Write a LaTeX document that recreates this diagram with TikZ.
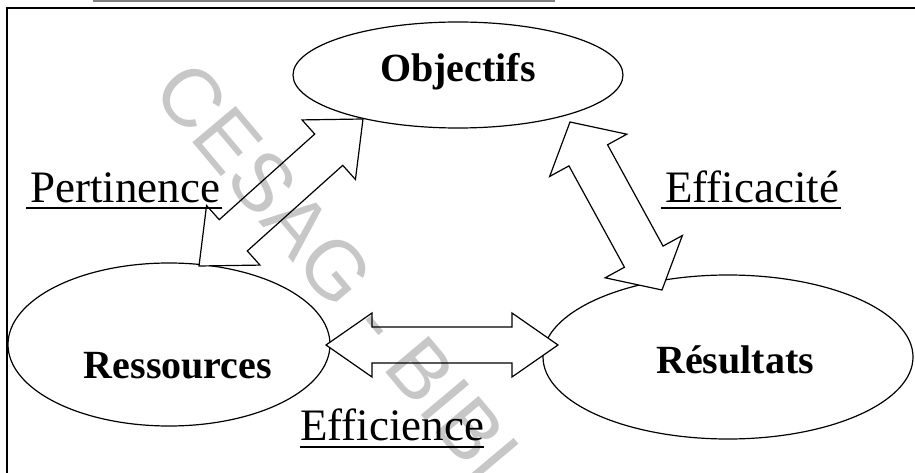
\documentclass[tikz,border=0pt]{standalone}
\usepackage{fontspec}
\setmainfont{Liberation Serif}
\newfontfamily\wmfont{Liberation Sans}
\usetikzlibrary{calc,shapes.geometric}
% double-headed block arrow: name, tip A, tip B, head length, head half width, shaft half width
\newcommand\twoarrow[6]{%
  \coordinate (#1a) at #2;
  \coordinate (#1b) at #3;
  \coordinate (#1ha) at ($(#1a)!#4pt!(#1b)$);
  \coordinate (#1hb) at ($(#1b)!#4pt!(#1a)$);
  \draw[arrowline] (#1a)
    -- ($(#1ha)!#5pt!90:(#1b)$) -- ($(#1ha)!#6pt!90:(#1b)$)
    -- ($(#1hb)!#6pt!-90:(#1a)$) -- ($(#1hb)!#5pt!-90:(#1a)$)
    -- (#1b)
    -- ($(#1hb)!#5pt!90:(#1a)$) -- ($(#1hb)!#6pt!90:(#1a)$)
    -- ($(#1ha)!#6pt!-90:(#1b)$) -- ($(#1ha)!#5pt!-90:(#1b)$)
    -- cycle;}
\begin{document}
\begin{tikzpicture}[x=1pt,y=-1pt,
  oval/.style={ellipse, draw, line width=1.2pt, inner sep=0pt},
  boldlab/.style={font=\fontsize{40}{44}\selectfont\bfseries, inner sep=0pt, anchor=base},
  lab/.style={font=\fontsize{45}{50}\selectfont, inner sep=0pt, anchor=base west},
  uline/.style={line width=1.6pt},
  arrowline/.style={draw, line width=1.2pt, fill=white, line join=miter},
  wm/.style={font=\wmfont\fontsize{82}{84}\selectfont, text=black, opacity=0.22, inner sep=0pt, anchor=base west, rotate=-50}]
\useasboundingbox (0,0) rectangle (915,473);
\fill[white] (0,0) rectangle (915,473);
% frame
\draw[line width=1.3pt] (7,473) -- (7,8) -- (915,8);
\draw[gray, line width=1.2pt] (93,1) -- (555,1);
% ellipses
\node[oval, minimum width=330pt, minimum height=106pt] (obj) at (458,75) {};
\node[oval, minimum width=322pt, minimum height=163pt] (res) at (169,344.5) {};
\node[oval, minimum width=370pt, minimum height=164pt] (resu) at (728,357) {};
\node[boldlab] (objt) at (458,82) {Objectifs};
\node[boldlab] (rest) at (178,378) {Ressources};
\node[boldlab] (resut) at (735,373) {Résultats};
% block arrows
\twoarrow{P}{(363,119)}{(199,266)}{46}{40}{21}
\twoarrow{C}{(570,122)}{(662,290)}{38}{44}{22}
\twoarrow{E}{(326,345)}{(558,345)}{46}{32}{18}
% labels
\node[lab] (pert) at (30,202) {Pertinence};
\node[lab] (effa) at (665,202) {Efficacité};
\node[lab] (effi) at (300,440) {Efficience};
\draw[uline] ([xshift=-4pt,yshift=-6pt]pert.base west) -- ([xshift=2pt,yshift=-6pt]pert.base east);
\draw[uline] ([xshift=-4pt,yshift=-6pt]effa.base west) -- ([xshift=2pt,yshift=-6pt]effa.base east);
\draw[uline] ([yshift=-7pt]effi.base west) -- ([yshift=-7pt]effi.base east);
% watermark
\begin{scope}
\clip (0,0) rectangle (915,473);
\node[wm] (wmark) at (150,92) {CESAG - BIBLIOTHEQUE};
\end{scope}
\end{tikzpicture}
\end{document}
